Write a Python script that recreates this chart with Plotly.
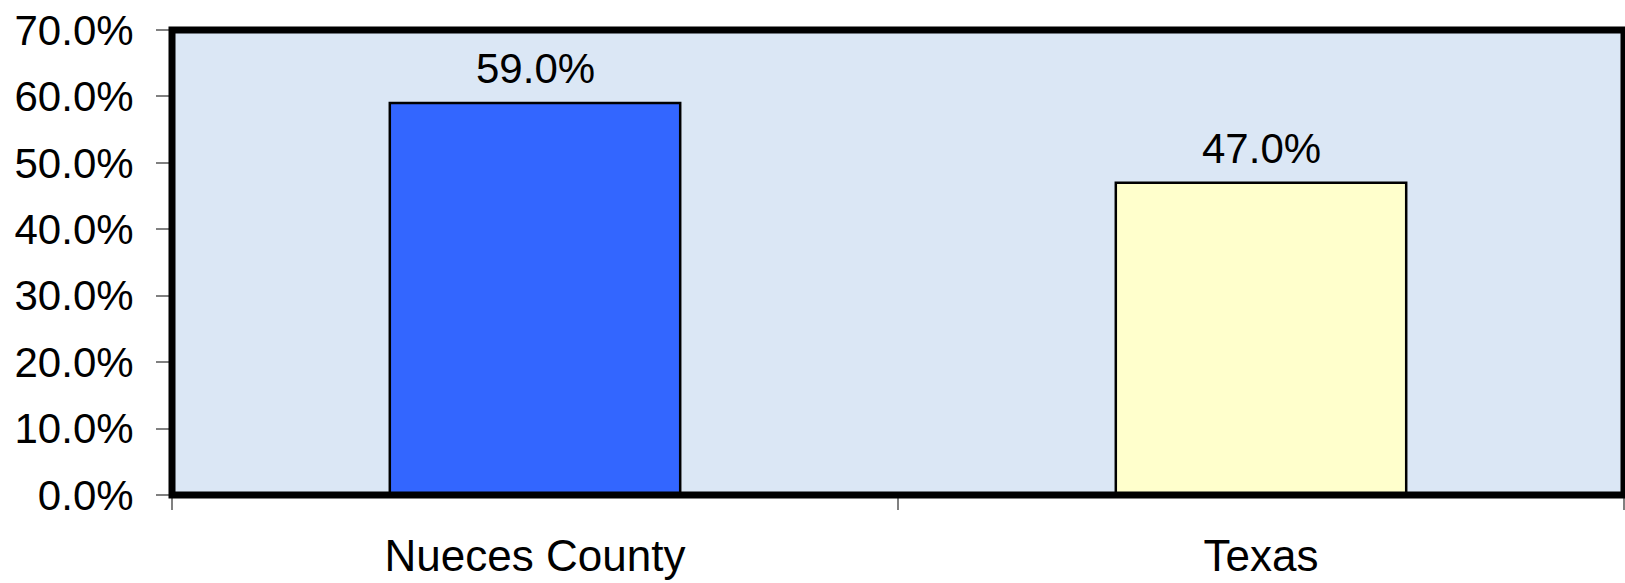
import plotly.graph_objects as go

# Share of population, by area
areas = ["Nueces County", "Texas"]
shares = [59.0, 47.0]
bar_colors = ["#3366FF", "#FFFFCC"]
y_ticks = [0, 10, 20, 30, 40, 50, 60, 70]

FONT = "Liberation Sans, Arial, sans-serif"

fig = go.Figure()
fig.add_trace(go.Bar(
    x=areas,
    y=shares,
    width=0.4,
    marker=dict(color=bar_colors, line=dict(color="#000000", width=2.5)),
    hoverinfo="skip",
))

# value labels above each bar
for area, share in zip(areas, shares):
    fig.add_annotation(
        x=area, y=share, text=f"{share:.1f}%",
        showarrow=False, yanchor="bottom", yshift=9,
        font=dict(family=FONT, size=42, color="#000000"),
    )

# heavy frame around the plot area
fig.add_shape(
    type="rect", xref="paper", yref="paper", x0=0, x1=1, y0=0, y1=1,
    line=dict(color="#000000", width=7), layer="above",
)

fig.update_layout(
    width=1625, height=583,
    margin=dict(l=172, r=1, t=30, b=88),
    paper_bgcolor="#FFFFFF",
    plot_bgcolor="#DBE7F5",
    showlegend=False,
    bargap=0.6,
    font=dict(family=FONT, size=42, color="#000000"),
)
fig.update_xaxes(
    showgrid=False, zeroline=False, showline=False,
    ticks="outside", tickson="boundaries", ticklen=14, tickwidth=2,
    tickcolor="#808080", ticklabelstandoff=31,
    tickfont=dict(family=FONT, size=44, color="#000000"),
)
fig.update_yaxes(
    range=[0, 70], tickvals=y_ticks,
    ticktext=[f"{v:.1f}%" for v in y_ticks],
    showgrid=False, zeroline=False, showline=False,
    ticks="outside", ticklen=15, tickwidth=2, tickcolor="#808080",
    ticklabelstandoff=14,
    tickfont=dict(family=FONT, size=42, color="#000000"),
)

fig.write_html("out.html")
